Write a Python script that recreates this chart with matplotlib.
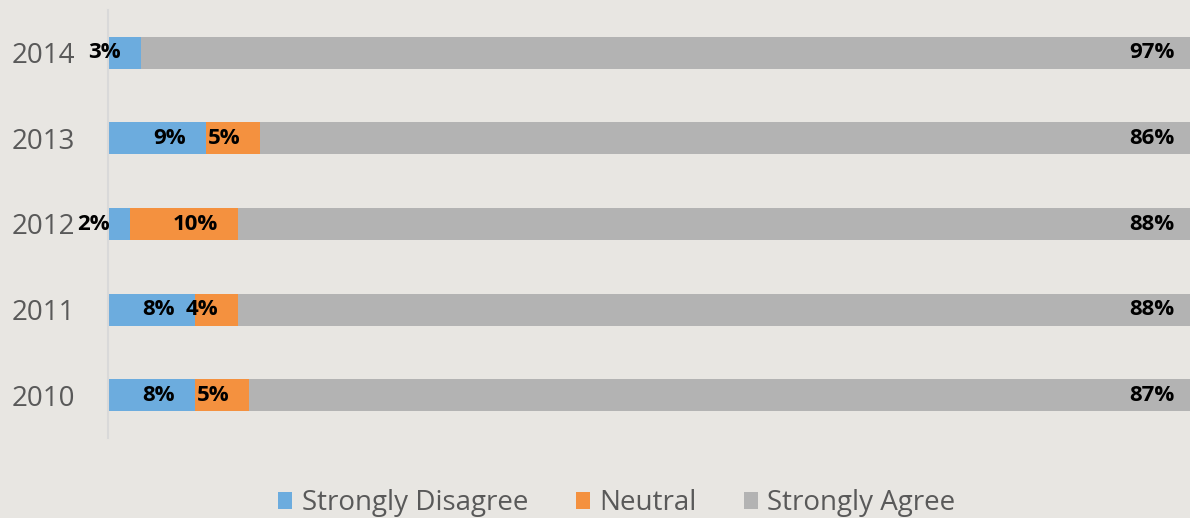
import matplotlib.pyplot as plt
from matplotlib.transforms import ScaledTranslation

years = ['2010', '2011', '2012', '2013', '2014']
disagree = [8, 8, 2, 9, 3]
neutral = [5, 4, 10, 5, 0]
agree = [87, 88, 88, 86, 97]

series = ['Strongly Disagree', 'Neutral', 'Strongly Agree']
colors = ['#6CACDE', '#F4913F', '#B3B3B3']
bg = '#E8E6E2'

fig = plt.figure(figsize=(11.9, 5.18), dpi=100, facecolor=bg)
ax = fig.add_axes([108 / 1190, 1 - 438 / 518, 1 - 108 / 1190 + 0.004, 428 / 518])
ax.set_facecolor(bg)

# label offset: 20 px left of each segment end
shift = ax.transData + ScaledTranslation(-0.2, 0, fig.dpi_scale_trans)

left = [0] * len(years)
for name, vals, col in zip(series, [disagree, neutral, agree], colors):
    ax.barh(years, vals, left=left, height=0.375, color=col, label=name)
    for i, v in enumerate(vals):
        if v > 0:
            ax.text(left[i] + v, i, f'{v}%', transform=shift, ha='right', va='center',
                    fontsize=16, fontweight='bold', color='black', family='Open Sans')
    left = [l + v for l, v in zip(left, vals)]

ax.set_xlim(0, 100)
ax.set_ylim(-0.5, len(years) - 0.5)
ax.set_xticks([])
for s in ['top', 'right', 'bottom']:
    ax.spines[s].set_visible(False)
ax.spines['left'].set_color('#D9D9D9')
ax.spines['left'].set_linewidth(1.5)
ax.tick_params(axis='y', length=0, pad=24, labelsize=20, labelcolor='#595959')
for t in ax.get_yticklabels():
    t.set_family('Open Sans')

fig.legend(loc='center', bbox_to_anchor=(617 / 1190, 1 - 503 / 518), ncol=3, frameon=False,
           handlelength=0.5, handleheight=0.55, handletextpad=0.35, columnspacing=1.7,
           prop={'family': 'Open Sans', 'size': 20}, labelcolor='#595959')

fig.savefig('out.png', dpi=100, facecolor=bg)
